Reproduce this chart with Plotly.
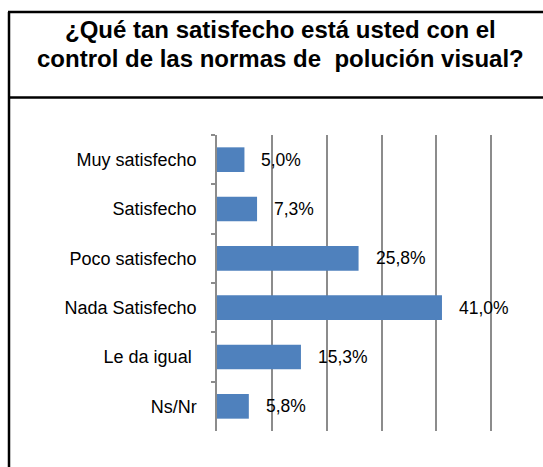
import plotly.graph_objects as go

categories = ["Muy satisfecho", "Satisfecho", "Poco satisfecho",
              "Nada Satisfecho", "Le da igual\u00a0", "Ns/Nr"]
values = [5.0, 7.3, 25.8, 41.0, 15.3, 5.8]
labels = [f"{v:.1f}".replace(".", ",") + "%" for v in values]
title_lines = ["¿Qué tan satisfecho está usted con el",
               "control de las normas de &nbsp;polución visual?"]

W, H = 543, 467
L, R, T, B = 217, 50, 135, 36
pw, ph = W - L - R, H - T - B


def px(x):
    return (x - L) / pw


def py(y):
    return (H - B - y) / ph


fig = go.Figure()
fig.add_trace(go.Bar(
    x=values, y=categories, orientation="h",
    marker=dict(color="#4F81BD", line=dict(width=0)),
    width=0.5, hoverinfo="skip",
))

for v, c, t in zip(values, categories, labels):
    fig.add_annotation(x=v, y=c, text=t, showarrow=False, xanchor="left",
                       xshift=15, font=dict(size=17.5, color="#000000"))

for i, line in enumerate(title_lines):
    fig.add_annotation(xref="paper", yref="paper", x=px(280), y=py(30 + 28 * i),
                       text="<b>" + line + "</b>", showarrow=False,
                       xanchor="center", yanchor="middle",
                       font=dict(size=24, color="#000000"))

# outer frame and title separator
fig.add_shape(type="line", xref="paper", yref="paper",
              x0=px(9), x1=px(9), y0=py(12), y1=py(480),
              line=dict(color="#000000", width=2.5))
fig.add_shape(type="line", xref="paper", yref="paper",
              x0=px(8), x1=px(560), y0=py(12), y1=py(12),
              line=dict(color="#000000", width=2.5))
fig.add_shape(type="line", xref="paper", yref="paper",
              x0=px(8), x1=px(560), y0=py(97.5), y1=py(97.5),
              line=dict(color="#000000", width=2.5))

fig.update_layout(
    width=W, height=H,
    margin=dict(l=L, r=R, t=T, b=B, pad=0),
    paper_bgcolor="white", plot_bgcolor="white",
    font=dict(family="Liberation Sans, Arial, sans-serif", size=18, color="#000000"),
    showlegend=False,
    xaxis=dict(range=[0, 50.3], dtick=10, showgrid=True, gridcolor="#8C8C8C",
               gridwidth=1.5, showticklabels=False, zeroline=False,
               showline=False, fixedrange=True),
    yaxis=dict(autorange="reversed", showline=True, linecolor="#8C8C8C",
               linewidth=1.5, ticks="outside", tickson="boundaries",
               ticklen=4, tickcolor="#8C8C8C", tickwidth=1.5,
               ticklabelstandoff=15, showgrid=False,
               tickfont=dict(size=18, color="#000000")),
)

fig.write_html("out.html", config={"displayModeBar": False},
               post_script="document.body.style.margin='0px';")
